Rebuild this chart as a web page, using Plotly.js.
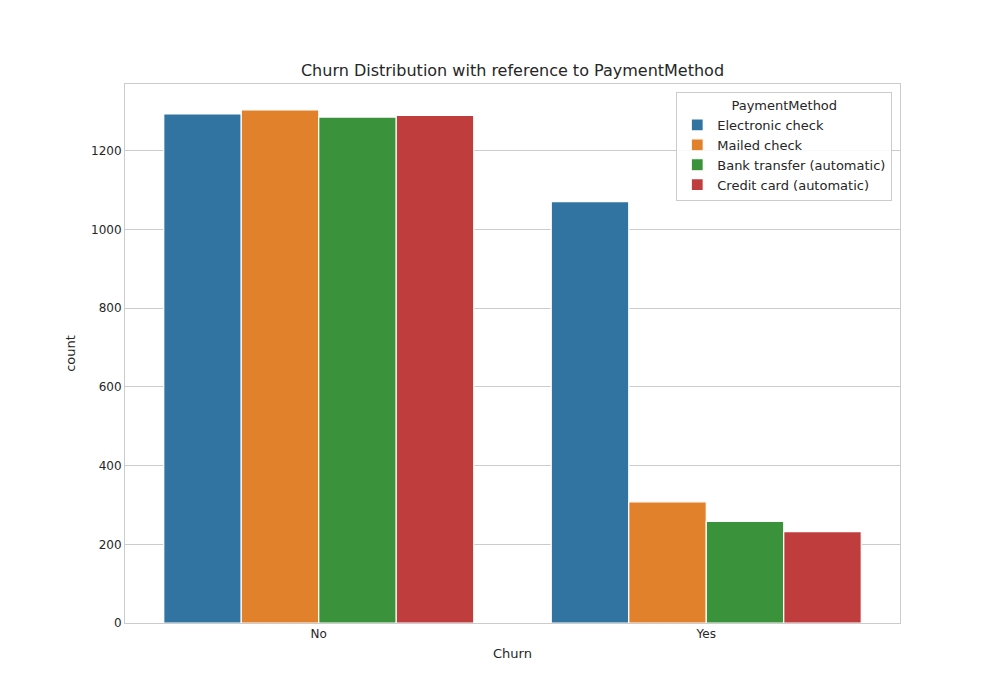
<!DOCTYPE html>
<html>
<head>
<meta charset="utf-8">
<script src="https://cdn.plot.ly/plotly-3.0.1.min.js"></script>
<style>body{margin:0;background:#fff}#chart{width:1000px;height:700px}</style>
</head>
<body>
<div id="chart"></div>
<script>
const categories = ["No", "Yes"];
const methods = ["Electronic check", "Mailed check", "Bank transfer (automatic)", "Credit card (automatic)"];
const electronicCheck = [1294, 1071];
const mailedCheck = [1304, 308];
const bankTransfer = [1286, 258];
const creditCard = [1290, 232];
const colors = ["#3274a1", "#e1812c", "#3a923a", "#c03d3e"];

const values = [electronicCheck, mailedCheck, bankTransfer, creditCard];

const traces = methods.map((name, i) => ({
  type: "bar",
  name: name,
  x: categories,
  y: values[i],
  marker: { color: colors[i], line: { color: "#ffffff", width: 1.2 } },
  hoverinfo: "x+y+name"
}));

const layout = {
  width: 1000,
  height: 700,
  paper_bgcolor: "#ffffff",
  plot_bgcolor: "#ffffff",
  font: { family: "DejaVu Sans, sans-serif", color: "#262626", size: 12 },
  margin: { l: 125, r: 100, t: 84, b: 77 },
  title: { text: "Churn Distribution with reference to PaymentMethod", x: 0.5125, xanchor: "center", y: 0.9, yanchor: "middle", font: { size: 16, color: "#262626" } },
  barmode: "group",
  bargap: 0.2,
  bargroupgap: 0,
  xaxis: {
    title: { text: "Churn", font: { size: 13 }, standoff: 8 },
    range: [-0.5, 1.5],
    showgrid: false,
    showline: true, mirror: true, linecolor: "#cccccc", linewidth: 1,
    ticks: "", tickfont: { size: 12 }
  },
  yaxis: {
    title: { text: "count", font: { size: 13 }, standoff: 12 },
    range: [0, 1370],
    tickvals: [0, 200, 400, 600, 800, 1000, 1200],
    showgrid: true, gridcolor: "#cccccc", gridwidth: 1,
    zeroline: false,
    showline: true, mirror: true, linecolor: "#cccccc", linewidth: 1,
    ticks: "", tickfont: { size: 12 }
  },
  showlegend: true,
  legend: {
    x: 0.99, xanchor: "right", y: 0.985, yanchor: "top",
    bgcolor: "rgba(255,255,255,0.85)",
    bordercolor: "#cccccc", borderwidth: 1,
    font: { size: 13 },
    title: { text: "PaymentMethod", side: "top center", font: { size: 13 } },
    traceorder: "normal"
  }
};

Plotly.newPlot("chart", traces, layout, { displayModeBar: false });
</script>
</body>
</html>
